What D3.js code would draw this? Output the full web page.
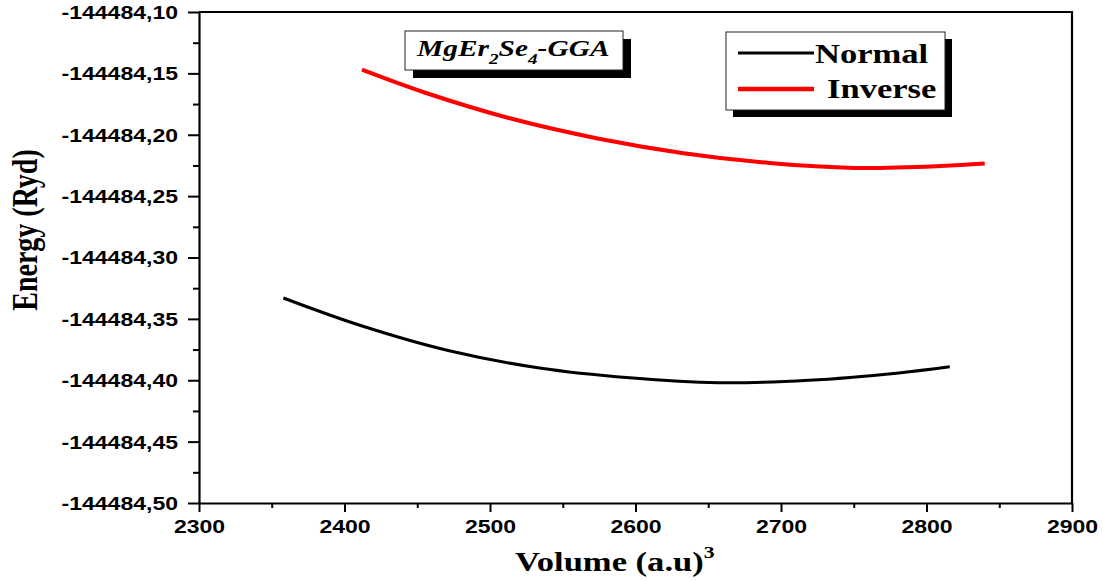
<!DOCTYPE html>
<html>
<head>
<meta charset="utf-8">
<script src="https://cdn.jsdelivr.net/npm/d3@7/dist/d3.min.js"></script>
<style>
  html, body { margin: 0; padding: 0; background: #fff; }
  svg { display: block; }
</style>
</head>
<body>
<svg id="chart" width="1103" height="581"></svg>
<script>
// Total energy versus cell volume for the two cation arrangements
const normalVolume = [2358, 2410, 2472, 2534, 2596, 2657, 2719, 2781, 2816];
const normalEnergy = [-144484.333, -144484.355, -144484.376, -144484.390, -144484.398,
                      -144484.402, -144484.400, -144484.394, -144484.389];

const inverseVolume = [2412, 2456, 2515, 2574, 2633, 2692, 2751, 2810, 2840];
const inverseEnergy = [-144484.147, -144484.166, -144484.187, -144484.203, -144484.215,
                       -144484.223, -144484.227, -144484.2255, -144484.2235];

const seriesNames = ["Normal", "Inverse"];
const seriesColors = ["#000000", "#ff0000"];

const xTicks = [2300, 2400, 2500, 2600, 2700, 2800, 2900];
const xMinorTicks = [2350, 2450, 2550, 2650, 2750, 2850];
const yTicks = [-144484.50, -144484.45, -144484.40, -144484.35, -144484.30,
                -144484.25, -144484.20, -144484.15, -144484.10];
const yTickLabels = ["-144484,50", "-144484,45", "-144484,40", "-144484,35", "-144484,30",
                     "-144484,25", "-144484,20", "-144484,15", "-144484,10"];
const yMinorTicks = [-144484.475, -144484.425, -144484.375, -144484.325,
                     -144484.275, -144484.225, -144484.175, -144484.125];

const W = 1103, H = 581;
const margin = { top: 12, right: 31, bottom: 78, left: 199 };
const stretch = 1.28; // wide glyph aspect used for all text

const svg = d3.select("#chart");

const x = d3.scaleLinear().domain([2300, 2900]).range([margin.left, W - margin.right]);
const y = d3.scaleLinear().domain([-144484.50, -144484.10]).range([H - margin.bottom, margin.top]);

const sans = "'Liberation Sans', Arial, sans-serif";
const serif = "'Liberation Serif', 'Times New Roman', serif";

// Minor ticks
svg.append("g")
  .attr("transform", `translate(0,${y.range()[0]})`)
  .call(d3.axisBottom(x).tickValues(xMinorTicks).tickSize(5).tickSizeOuter(0).tickFormat(""))
  .call(g => g.select(".domain").remove())
  .call(g => g.selectAll("line").attr("stroke-width", 2));
svg.append("g")
  .attr("transform", `translate(${x.range()[0]},0)`)
  .call(d3.axisLeft(y).tickValues(yMinorTicks).tickSize(6).tickSizeOuter(0).tickFormat(""))
  .call(g => g.select(".domain").remove())
  .call(g => g.selectAll("line").attr("stroke-width", 2));

// Major x axis
const gx = svg.append("g")
  .attr("transform", `translate(0,${y.range()[0]})`)
  .call(d3.axisBottom(x).tickValues(xTicks).tickSize(9).tickSizeOuter(0).tickFormat(d3.format("d")));
gx.select(".domain").attr("stroke-width", 2.2);
gx.selectAll("line").attr("stroke-width", 2);
gx.selectAll("text")
  .attr("font-family", sans).attr("font-weight", "bold").attr("font-size", 18)
  .attr("fill", "#000")
  .attr("y", 0).attr("dy", 0)
  .attr("transform", `translate(0,30) scale(${stretch},1)`);

// Major y axis
const gy = svg.append("g")
  .attr("transform", `translate(${x.range()[0]},0)`)
  .call(d3.axisLeft(y).tickValues(yTicks).tickSize(11).tickSizeOuter(0)
        .tickFormat((d, i) => yTickLabels[i]));
gy.select(".domain").attr("stroke-width", 2.2);
gy.selectAll("line").attr("stroke-width", 2);
gy.selectAll("text")
  .attr("font-family", sans).attr("font-weight", "bold").attr("font-size", 18)
  .attr("fill", "#000")
  .attr("x", 0).attr("dy", "0.36em")
  .attr("transform", `translate(-21,0) scale(${stretch},1)`);

// Frame: top and right borders
svg.append("path")
  .attr("d", `M${x.range()[0]},${y.range()[1]}H${x.range()[1]}V${y.range()[0]}`)
  .attr("fill", "none").attr("stroke", "#000").attr("stroke-width", 2.2);

// Curves
const line = d3.line()
  .x(d => x(d[0])).y(d => y(d[1]))
  .curve(d3.curveCatmullRom.alpha(0.5));

const normalPts = normalVolume.map((v, i) => [v, normalEnergy[i]]);
const inversePts = inverseVolume.map((v, i) => [v, inverseEnergy[i]]);

svg.append("path").datum(normalPts)
  .attr("d", line).attr("fill", "none")
  .attr("stroke", seriesColors[0]).attr("stroke-width", 3);
svg.append("path").datum(inversePts)
  .attr("d", line).attr("fill", "none")
  .attr("stroke", seriesColors[1]).attr("stroke-width", 4);

// Axis titles
const xTitle = svg.append("text")
  .attr("transform", `translate(515,571) scale(${stretch},1)`)
  .attr("font-family", serif).attr("font-weight", "bold").attr("font-size", 27)
  .attr("fill", "#000");
xTitle.append("tspan").text("Volume (a.u)");
xTitle.append("tspan").attr("font-size", 17).attr("dy", -13).text("3");

svg.append("text")
  .attr("transform", `translate(37,230) rotate(-90) scale(1,${stretch})`)
  .attr("text-anchor", "middle")
  .attr("font-family", serif).attr("font-weight", "bold").attr("font-size", 28)
  .attr("fill", "#000")
  .text("Energy (Ryd)");

// Compound label box with drop shadow
const tb = { x: 405, y: 31, w: 218, h: 39, off: 8 };
svg.append("rect").attr("x", tb.x + tb.off).attr("y", tb.y + tb.off)
  .attr("width", tb.w).attr("height", tb.h).attr("fill", "#000");
svg.append("rect").attr("x", tb.x).attr("y", tb.y)
  .attr("width", tb.w).attr("height", tb.h)
  .attr("fill", "#fff").attr("stroke", "#222").attr("stroke-width", 1);
const title = svg.append("text")
  .attr("transform", `translate(417,56) scale(${stretch},1)`)
  .attr("font-family", serif).attr("font-weight", "bold").attr("font-style", "italic")
  .attr("font-size", 23).attr("fill", "#000");
title.append("tspan").text("MgEr");
title.append("tspan").attr("font-size", 15).attr("dy", 8).text("2");
title.append("tspan").attr("dy", -8).text("Se");
title.append("tspan").attr("font-size", 15).attr("dy", 8).text("4");
title.append("tspan").attr("dy", -8).text("-GGA");

// Legend box with drop shadow
const lb = { x: 726, y: 32, w: 219, h: 78, off: 7 };
svg.append("rect").attr("x", lb.x + lb.off).attr("y", lb.y + lb.off)
  .attr("width", lb.w).attr("height", lb.h).attr("fill", "#000");
svg.append("rect").attr("x", lb.x).attr("y", lb.y)
  .attr("width", lb.w).attr("height", lb.h)
  .attr("fill", "#fff").attr("stroke", "#222").attr("stroke-width", 1);

const legendRows = [
  { y: 53, textX: 815, baseline: 63, width: 3 },
  { y: 89, textX: 827, baseline: 98, width: 4.5 }
];
seriesNames.forEach((name, i) => {
  const r = legendRows[i];
  svg.append("line")
    .attr("x1", 738).attr("x2", 814).attr("y1", r.y).attr("y2", r.y)
    .attr("stroke", seriesColors[i]).attr("stroke-width", r.width);
  svg.append("text")
    .attr("transform", `translate(${r.textX},${r.baseline}) scale(${stretch},1)`)
    .attr("font-family", serif).attr("font-weight", "bold").attr("font-size", 27)
    .attr("fill", "#000")
    .text(name);
});
</script>
</body>
</html>
